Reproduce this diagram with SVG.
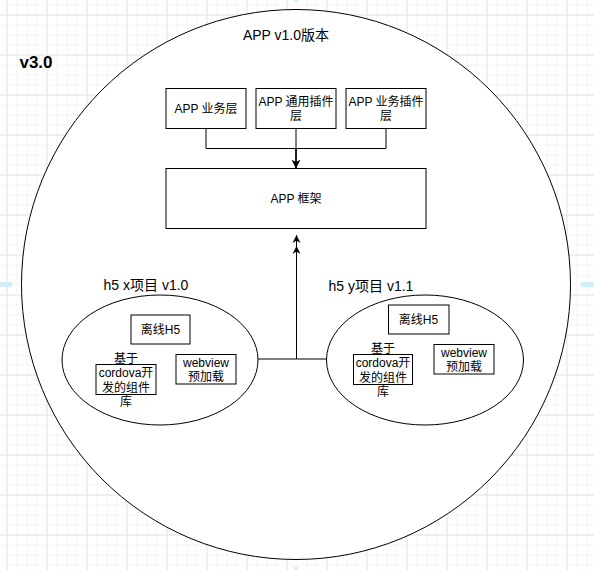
<svg xmlns="http://www.w3.org/2000/svg" width="594" height="570" viewBox="0 0 594 570">
<style>
text{font-family:"Liberation Sans","Noto Sans CJK SC",sans-serif;fill:#000;text-anchor:middle}
.t12{font-size:12px}
.t14{font-size:14px}
.shape{fill:#fff;stroke:#000;stroke-width:1}
.edge{fill:none;stroke:#000;stroke-width:1}
.mark{fill:#d4eef9}
</style>
<defs>
<pattern id="minor" width="10" height="10" patternUnits="userSpaceOnUse" x="6.5" y="4.5">
<path d="M0,0.5H10M0.5,0V10" fill="none" stroke="#f4f4f4" stroke-width="1"/>
</pattern>
<pattern id="major" width="40" height="40" patternUnits="userSpaceOnUse" x="6.5" y="14.5">
<path d="M0,0.5H40M0.5,0V40" fill="none" stroke="#e6e6e6" stroke-width="1"/>
</pattern>
<marker id="arrow" viewBox="0 0 10 10" refX="10" refY="5" markerWidth="8" markerHeight="9" markerUnits="userSpaceOnUse" orient="auto">
<path d="M0,0L10,5L0,10L3,5z" fill="#000"/>
</marker>
</defs>
<rect width="594" height="570" fill="#fff"/>
<rect width="594" height="570" fill="url(#minor)"/>
<rect width="594" height="570" fill="url(#major)"/>
<g id="guides">
<rect class="mark" x="0" y="282" width="12" height="5"/>
<rect class="mark" x="581" y="282" width="13" height="5"/>
<rect class="mark" x="294" y="0" width="4" height="2"/>
<rect class="mark" x="294" y="567" width="4" height="3"/>
</g>
<g id="v3">
<ellipse class="shape" cx="296" cy="284.5" rx="274.5" ry="275"/>
<text class="t14" x="286" y="40">APP v1.0版本</text>
<text x="36" y="68" style="font-size:17px;font-weight:bold">v3.0</text>
</g>
<g id="app-biz">
<rect class="shape" x="166" y="88.5" width="80" height="40"/>
<text class="t12" x="206" y="112.5">APP 业务层</text>
</g>
<g id="app-common">
<rect class="shape" x="256" y="88.5" width="80" height="40"/>
<text class="t12" x="296" y="106">APP 通用插件</text>
<text class="t12" x="296" y="120.4">层</text>
</g>
<g id="app-bizplugin">
<rect class="shape" x="346" y="88.5" width="80" height="40"/>
<text class="t12" x="386" y="106">APP 业务插件</text>
<text class="t12" x="386" y="120.4">层</text>
</g>
<g id="app-frame">
<rect class="shape" x="166" y="168.5" width="260" height="60"/>
<text class="t12" x="296" y="202.5">APP 框架</text>
</g>
<g id="h5x">
<ellipse class="shape" cx="160" cy="360" rx="98" ry="65"/>
<text class="t14" x="146" y="290">h5 x项目 v1.0</text>
<rect class="shape" x="131" y="315" width="59" height="29"/>
<text class="t12" x="160.5" y="333.8">离线H5</text>
<rect class="shape" x="176" y="354.5" width="60" height="29.5"/>
<text class="t12" x="206" y="366.8">webview</text>
<text class="t12" x="206" y="381.2">预加载</text>
<rect class="shape" x="96" y="364.5" width="60" height="30"/>
<text class="t12" x="126" y="362.7">基于</text>
<text class="t12" x="126" y="377.1">cordova开</text>
<text class="t12" x="126" y="391.5">发的组件</text>
<text class="t12" x="126" y="405.9">库</text>
</g>
<g id="h5y">
<ellipse class="shape" cx="425" cy="360" rx="98.5" ry="65"/>
<text class="t14" x="371" y="291">h5 y项目 v1.1</text>
<rect class="shape" x="388.5" y="305" width="60.5" height="29"/>
<text class="t12" x="418.5" y="323.8">离线H5</text>
<rect class="shape" x="434" y="344.5" width="60" height="29.5"/>
<text class="t12" x="464" y="356.8">webview</text>
<text class="t12" x="464" y="371.2">预加载</text>
<rect class="shape" x="353.5" y="354.5" width="59" height="30"/>
<text class="t12" x="383" y="352.7">基于</text>
<text class="t12" x="383" y="367.1">cordova开</text>
<text class="t12" x="383" y="381.5">发的组件</text>
<text class="t12" x="383" y="395.9">库</text>
</g>
<g id="connectors">
<path class="edge" d="M206,128.5V148.5H296V168" marker-end="url(#arrow)"/>
<path class="edge" d="M386,128.5V148.5H296V168" marker-end="url(#arrow)"/>
<path class="edge" d="M296,128.5V168" marker-end="url(#arrow)"/>
<path class="edge" d="M258,359H296.5V235" marker-end="url(#arrow)"/>
<path class="edge" d="M326.5,359H296.5V246" marker-end="url(#arrow)"/>
</g>
</svg>
